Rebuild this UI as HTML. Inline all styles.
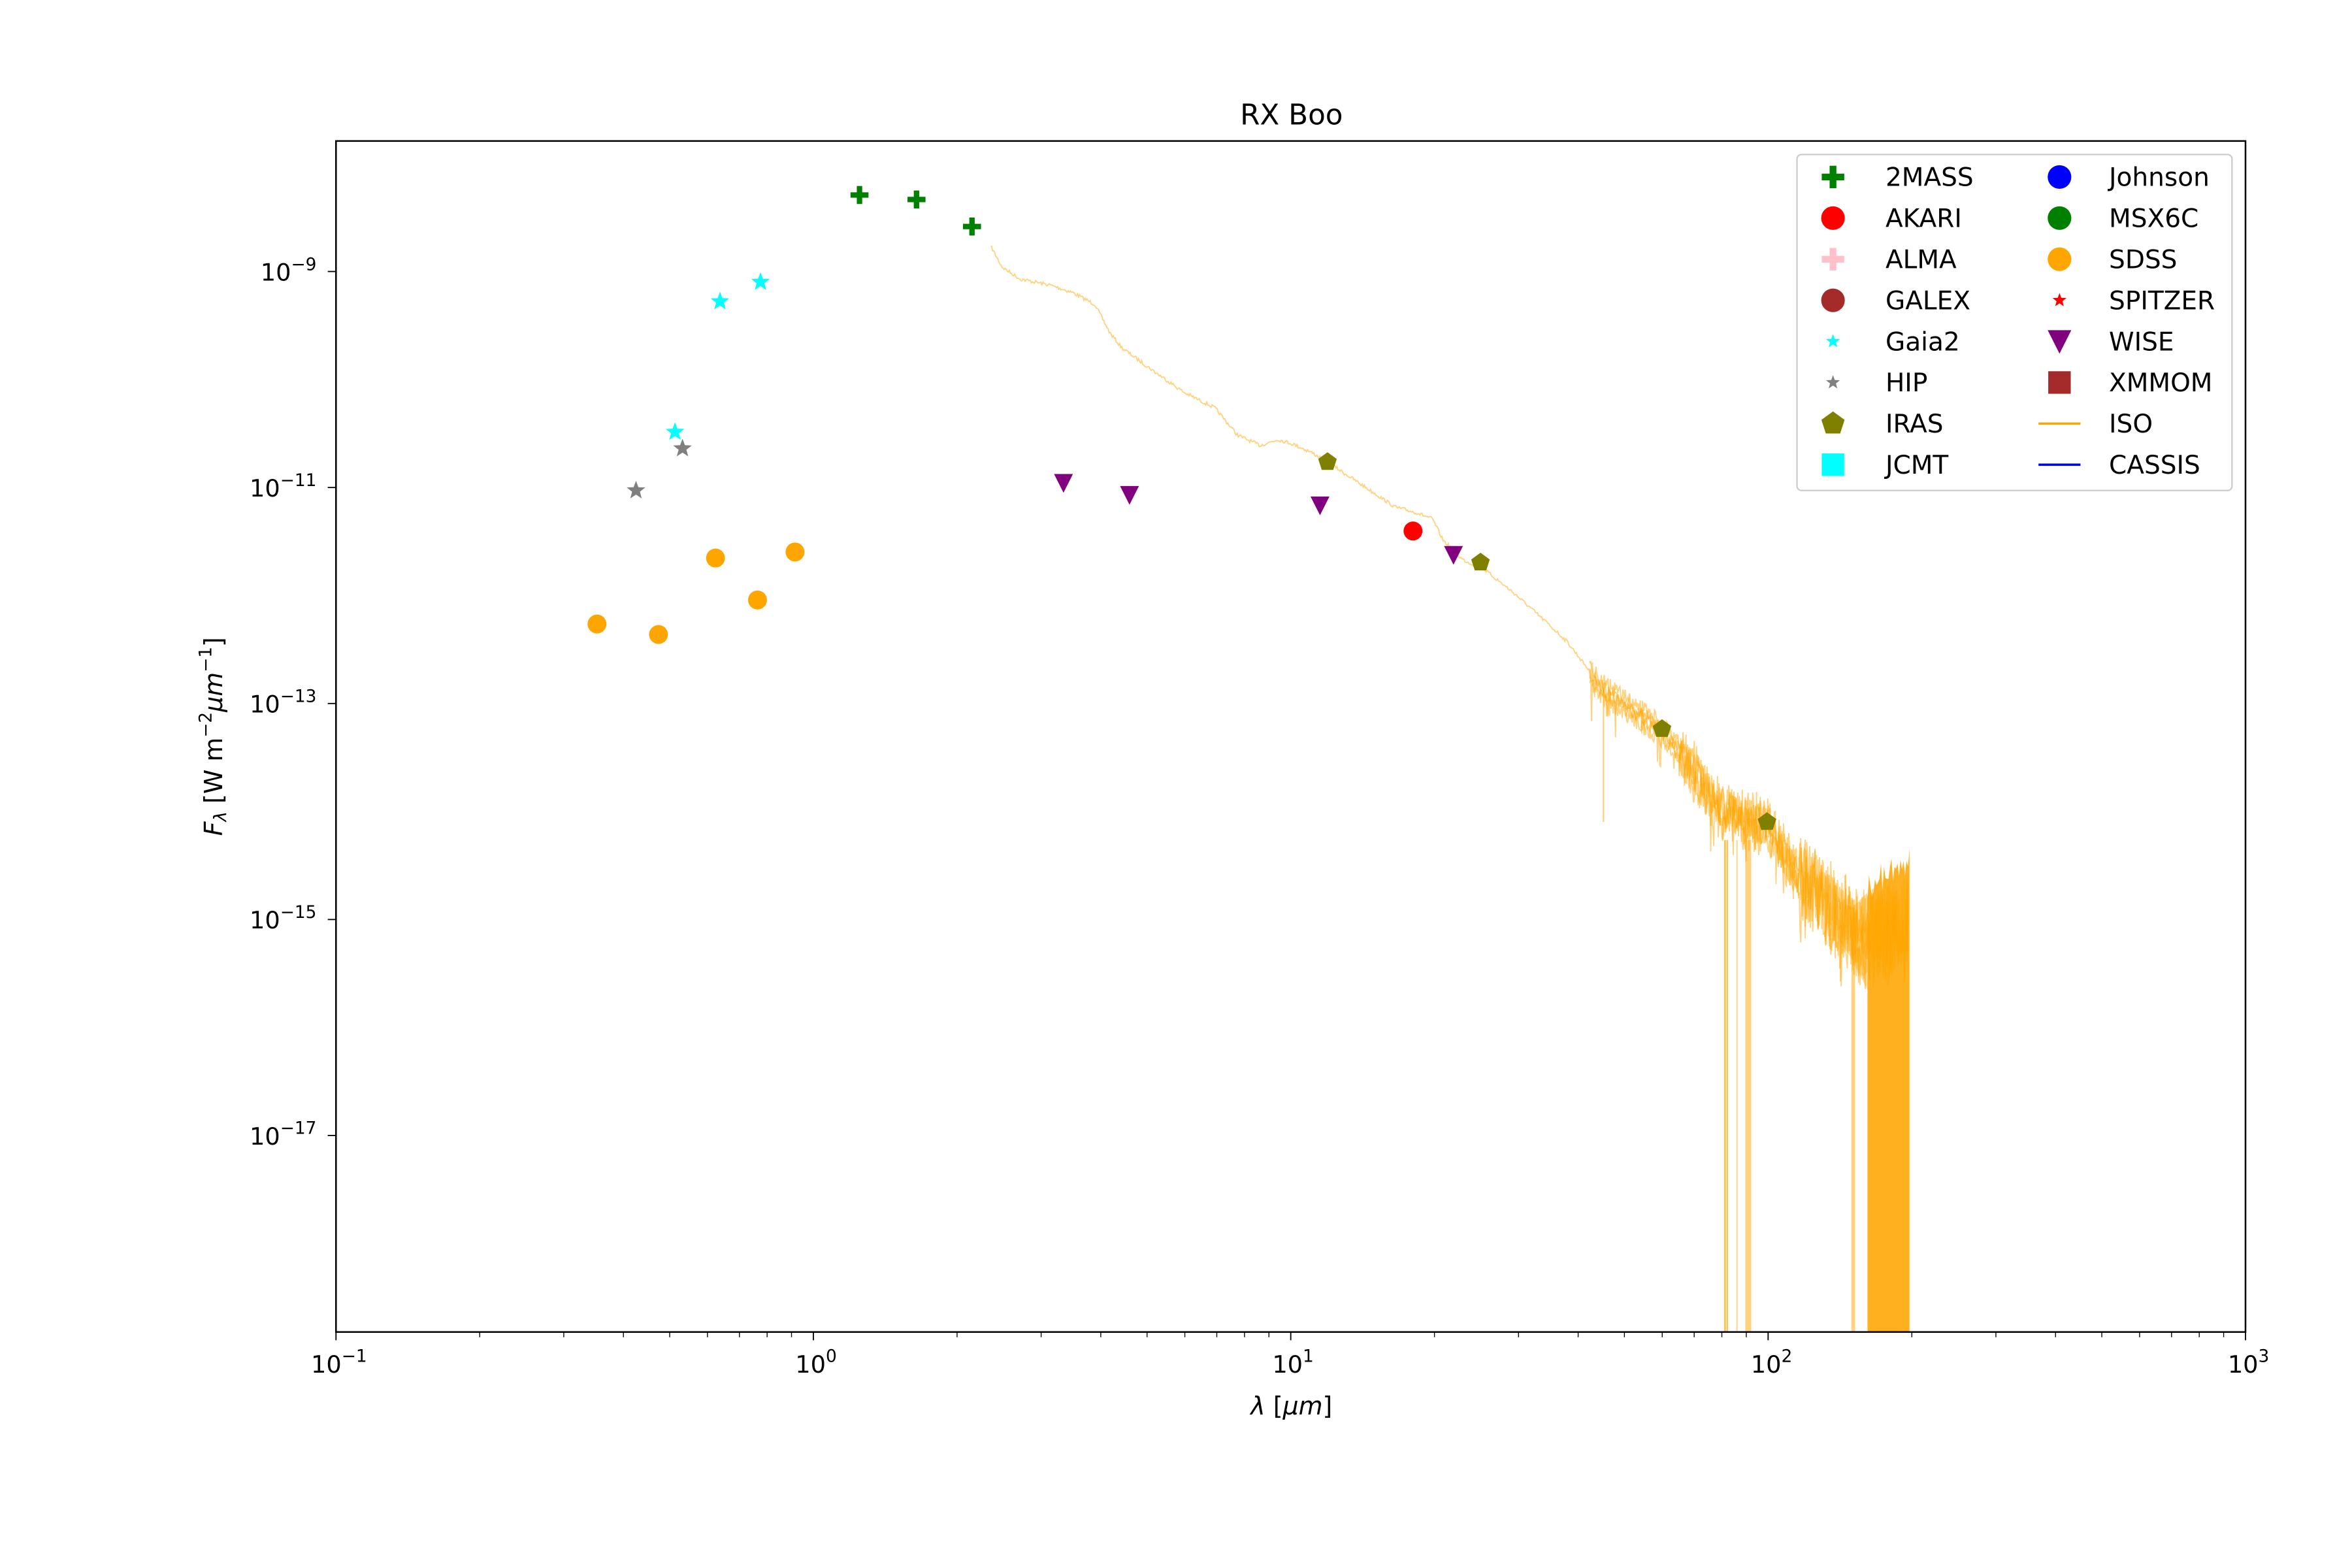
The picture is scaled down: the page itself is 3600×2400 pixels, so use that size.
<!DOCTYPE html>
<html><head><meta charset="utf-8"><style>
html,body{margin:0;padding:0;background:#fff}
svg{display:block}
text{font-family:"DejaVu Sans","Liberation Sans",sans-serif;fill:#000}
</style></head><body>
<svg id="s" width="3600" height="2400" viewBox="0 0 1568 1045.33" xmlns="http://www.w3.org/2000/svg">
<rect width="1568" height="1046" fill="#fff"/>
<text x="861" y="83" font-size="19" text-anchor="middle">RX Boo</text>
<defs><clipPath id="c"><rect x="224" y="94" width="1273" height="794"/></clipPath></defs>
<g id="iso" clip-path="url(#c)"></g>
<g id="pts"></g>
<rect x="224" y="94" width="1273" height="794" fill="none" stroke="#000" stroke-width="1.1"/>
<g id="ticks" stroke="#000" stroke-width="0.8"></g>
<g font-size="16">
<text x="211" y="187" text-anchor="end">10<tspan dy="-7" font-size="11.5">−9</tspan></text>
<text x="211" y="331" text-anchor="end">10<tspan dy="-7" font-size="11.5">−11</tspan></text>
<text x="211" y="475" text-anchor="end">10<tspan dy="-7" font-size="11.5">−13</tspan></text>
<text x="211" y="619" text-anchor="end">10<tspan dy="-7" font-size="11.5">−15</tspan></text>
<text x="211" y="763" text-anchor="end">10<tspan dy="-7" font-size="11.5">−17</tspan></text>
<text x="226" y="915" text-anchor="middle">10<tspan dy="-7" font-size="11.5">−1</tspan></text>
<text x="544" y="915" text-anchor="middle">10<tspan dy="-7" font-size="11.5">0</tspan></text>
<text x="862" y="915" text-anchor="middle">10<tspan dy="-7" font-size="11.5">1</tspan></text>
<text x="1181" y="915" text-anchor="middle">10<tspan dy="-7" font-size="11.5">2</tspan></text>
<text x="1499" y="915" text-anchor="middle">10<tspan dy="-7" font-size="11.5">3</tspan></text>
</g>
<text x="861" y="943" font-size="16.5" text-anchor="middle"><tspan font-style="italic">λ</tspan> [<tspan font-style="italic">μm</tspan>]</text>
<text transform="translate(148,491) rotate(-90)" font-size="16.5" text-anchor="middle"><tspan font-style="italic">F<tspan font-size="11.5" dy="3">λ</tspan></tspan><tspan dy="-3"> [W m</tspan><tspan dy="-7" font-size="11.5">−2</tspan><tspan dy="7" font-style="italic">μm</tspan><tspan dy="-7" font-size="11.5">−1</tspan><tspan dy="7">]</tspan></text>
<rect x="1198" y="103" width="290" height="224" rx="3" fill="#fff" fill-opacity="0.8" stroke="#ccc" stroke-width="1"/>
<g id="leg" font-size="17"></g>
</svg>
<script>
var NS="http://www.w3.org/2000/svg";
function el(p,t,a){var e=document.createElementNS(NS,t);for(var k in a)e.setAttribute(k,a[k]);p.appendChild(e);return e;}
var tk=document.getElementById('ticks');
for(var d=-1;d<3;d++){for(var m=1;m<10;m++){var x=224+(d+1+Math.log10(m))*318.25;if(m==1){el(tk,'line',{x1:x,y1:888,x2:x,y2:893.5});}else{el(tk,'line',{x1:x,y1:888,x2:x,y2:891.5,'stroke-width':0.6});}}}
el(tk,'line',{x1:1497,y1:888,x2:1497,y2:893.5});
[181,325,469,613,757].forEach(function(y){el(tk,'line',{x1:224,y1:y,x2:218.5,y2:y});});
function star(cx,cy,r){var p=[];for(var i=0;i<10;i++){var a=-Math.PI/2+i*Math.PI/5,rr=i%2?r*0.42:r;p.push((cx+rr*Math.cos(a)).toFixed(2)+','+(cy+rr*Math.sin(a)).toFixed(2));}return p.join(' ');}
function pent(cx,cy,r){var p=[];for(var i=0;i<5;i++){var a=-Math.PI/2+i*2*Math.PI/5;p.push((cx+r*Math.cos(a)).toFixed(2)+','+(cy+r*Math.sin(a)).toFixed(2));}return p.join(' ');}
function mk(g,type,x,y,col,s){s=s||1;
 if(type=='plus'){el(g,'rect',{x:x-6*s,y:y-1.8*s,width:12*s,height:3.6*s,fill:col});el(g,'rect',{x:x-1.8*s,y:y-6*s,width:3.6*s,height:12*s,fill:col});}
 else if(type=='circ'){el(g,'circle',{cx:x,cy:y,r:6.3*s,fill:col});}
 else if(type=='star'){el(g,'polygon',{points:star(x,y,6.5*s),fill:col});}
 else if(type=='tri'){el(g,'polygon',{points:(x-6.3*s)+','+(y-6*s)+' '+(x+6.3*s)+','+(y-6*s)+' '+x+','+(y+6.5*s),fill:col});}
 else if(type=='pent'){el(g,'polygon',{points:pent(x,y,6.5*s),fill:col});}
 else if(type=='sq'){el(g,'rect',{x:x-6*s,y:y-6*s,width:12*s,height:12*s,fill:col});}
 else if(type=='line'){el(g,'line',{x1:x-14,y1:y,x2:x+14,y2:y,stroke:col,'stroke-width':1.5});}
}
var iso=document.getElementById('iso');
var seed=7;function rnd(){seed=(seed*16807)%2147483647;return seed/2147483647;}
var base=[[661,165],[668,178],[680,186],[700,190],[715,195],[730,203],[740,222],[748,232],[770,248],[790,262],[810,272],[825,290],[840,297],[852,293],[862,296],[875,302],[885,308],[900,318],[915,328],[930,338],[945,342],[955,346],[962,360],[975,373],[990,380],[1010,396],[1030,414],[1045,428],[1058,445],[1066,458],[1080,468],[1095,478],[1108,488],[1125,508],[1145,538],[1165,548],[1178,550],[1195,580],[1210,597],[1228,612],[1240,625],[1272,620]];
function by(x){for(var i=0;i<base.length-1;i++){if(x<=base[i+1][0]){var t=(x-base[i][0])/(base[i+1][0]-base[i][0]);return base[i][1]+t*(base[i+1][1]-base[i][1]);}}return base[base.length-1][1];}
var d='M661,165';
for(var x=661;x<=1272;x+=0.7){var amp=x<1060?1.2:(x<1120?5:(x<1200?14:22));d+=' L'+x.toFixed(1)+','+(by(x)+(rnd()-0.5)*amp*2).toFixed(1);}
el(iso,'path',{d:d,fill:'none',stroke:'#ffa500','stroke-width':0.8,'stroke-opacity':0.5});
for(var k=0;k<4;k++){var off=(k-1.5)*4;var d2='M1060,'+(by(1060)+off);for(var x=1060;x<=1272;x+=0.5){var amp=x<1120?5:(x<1200?15:30);var sp=(rnd()<0.03)?rnd()*25:0;d2+=' L'+x.toFixed(1)+','+(by(x)+off+(rnd()-0.5)*amp*2+sp).toFixed(1);}el(iso,'path',{d:d2,fill:'none',stroke:'#ffa500','stroke-width':0.8,'stroke-opacity':0.5});}
el(iso,'line',{x1:1069,y1:455,x2:1069,y2:548,stroke:'#ffa500','stroke-width':1,'stroke-opacity':0.5});
[[1150,560,1.2,0.7],[1151.5,560,1,0.7],[1158,560,0.8,0.5],[1165.5,560,4,0.5],[1235.5,600,2.5,0.5]].forEach(function(v){el(iso,'line',{x1:v[0],y1:v[1],x2:v[0],y2:890,stroke:'#ffa500','stroke-width':v[2],'stroke-opacity':v[3]});});
var pp=['1245,890'];for(var x=1245;x<=1273;x+=1){pp.push(x+','+(590-(x-1245)*0.5+(rnd()-0.5)*22).toFixed(1));}pp.push('1273,890');
el(iso,'polygon',{points:pp.join(' '),fill:'#ffa500','fill-opacity':0.88});
el(iso,'polygon',{points:'1225,600 1235,605 1245,595 1245,660 1235,640 1225,625',fill:'#ffa500','fill-opacity':0.4});
var g=document.getElementById('pts');
[[573,130],[611,133],[648,151]].forEach(function(p){mk(g,'plus',p[0],p[1],'#008000');});
[[480,201],[507,188],[450,288]].forEach(function(p){mk(g,'star',p[0],p[1],'#00ffff');});
[[424,327],[455,299]].forEach(function(p){mk(g,'star',p[0],p[1],'#808080');});
[[398,416],[439,423],[477,372],[505,400],[530,368]].forEach(function(p){mk(g,'circ',p[0],p[1],'#ffa500');});
[[709,322],[753,330],[880,337],[969,370]].forEach(function(p){mk(g,'tri',p[0],p[1],'#800080');});
[[885,308],[987,375],[1108,486],[1178,548]].forEach(function(p){mk(g,'pent',p[0],p[1],'#808000');});
mk(g,'circ',942,354,'#ff0000');
var lg=document.getElementById('leg');
var c1=[['plus','#008000','2MASS'],['circ','#ff0000','AKARI'],['plus','#ffc0cb','ALMA'],['circ','#a52a2a','GALEX'],['star','#00ffff','Gaia2'],['star','#808080','HIP'],['pent','#808000','IRAS'],['sq','#00ffff','JCMT']];
var c2=[['circ','#0000ff','Johnson'],['circ','#008000','MSX6C'],['circ','#ffa500','SDSS'],['star','#ff0000','SPITZER'],['tri','#800080','WISE'],['sq','#a52a2a','XMMOM'],['line','#ffa500','ISO'],['line','#0000ff','CASSIS']];
for(var i=0;i<8;i++){var y=118+i*27.4;
 mk(lg,c1[i][0],1222,y,c1[i][1],(c1[i][0]=='star')?0.75:1.25);
 var t=el(lg,'text',{x:1257,y:y+6});t.textContent=c1[i][2];
 mk(lg,c2[i][0],1373,y,c2[i][1],(c2[i][0]=='star')?0.75:1.25);
 var t2=el(lg,'text',{x:1406,y:y+6});t2.textContent=c2[i][2];}
</script>
</body></html>
